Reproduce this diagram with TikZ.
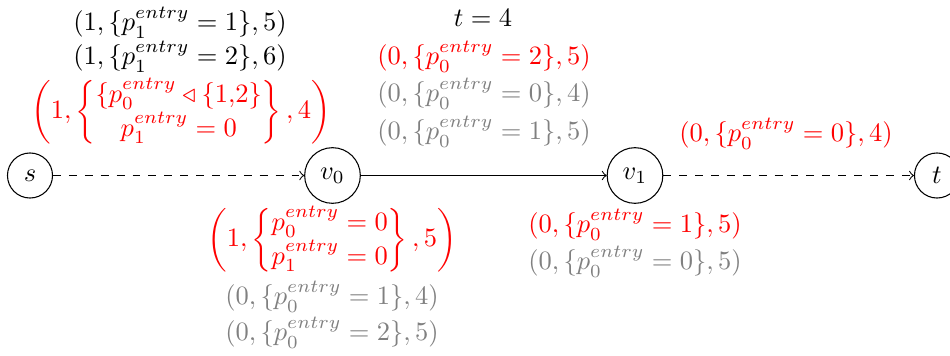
\documentclass[tikz,border=0pt]{standalone}
\usepackage{amsmath}
\begin{document}
\begin{tikzpicture}[x=0.3774pt,y=-0.3774pt,
  vert/.style={draw,circle,inner sep=0pt},
  small/.style={vert,minimum size=17pt},
  big/.style={vert,minimum size=21pt},
  lbl/.style={anchor=base,inner sep=0pt},
  blk/.style={lbl,text=black},
  rd/.style={lbl,text=red},
  gr/.style={lbl,text=gray},
  edge/.style={->}]
\useasboundingbox (0,0) rectangle (950,356);
\node[small] (s) at (30,175.5) {$s$};
\node[big] (v0) at (332.5,175.5) {$v_0$};
\node[big] (v1) at (635,175.5) {$v_1$};
\node[small] (t) at (937,175.5) {$t$};
\draw[edge,dashed] (s) -- (v0);
\draw[edge] (v0) -- (v1);
\draw[edge,dashed] (v1) -- (t);
% top left
\node[blk] (a1) at (180,31) {$(1,\{p_1^{entry}=1\},5)$};
\node[blk] (a2) at (180,65) {$(1,\{p_1^{entry}=2\},6)$};
\node[text=red,inner sep=0pt] (a3) at (181,112) {$\left(1,\left\{\begin{matrix}\{p_0^{entry}\triangleleft\{1{,}2\}\\ p_1^{entry}=0\end{matrix}\right\},4\right)$};
% top middle
\node[blk] (b1) at (483,27) {$t=4$};
\node[rd] (b2) at (484,65) {$(0,\{p_0^{entry}=2\},5)$};
\node[gr] (b3) at (484,102) {$(0,\{p_0^{entry}=0\},4)$};
\node[gr] (b4) at (484,140) {$(0,\{p_0^{entry}=1\},5)$};
% top right
\node[rd] (c1) at (786,142) {$(0,\{p_0^{entry}=0\},4)$};
% below v0
\node[text=red,inner sep=0pt] (d1) at (332,240) {$\left(1,\left\{\begin{matrix}p_0^{entry}=0\\ p_1^{entry}=0\end{matrix}\right\},5\right)$};
\node[gr] (d2) at (332,305) {$(0,\{p_0^{entry}=1\},4)$};
\node[gr] (d3) at (332,341) {$(0,\{p_0^{entry}=2\},5)$};
% below v1
\node[rd] (e1) at (635,233) {$(0,\{p_0^{entry}=1\},5)$};
\node[gr] (e2) at (635,270) {$(0,\{p_0^{entry}=0\},5)$};
\end{tikzpicture}
\end{document}
